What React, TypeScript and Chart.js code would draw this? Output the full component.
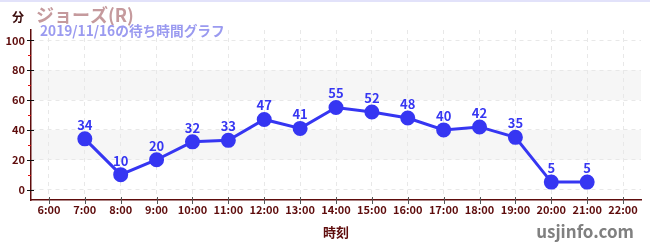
import React, { useEffect, useRef } from "react";
import { Chart, registerables } from "chart.js";

Chart.register(...registerables);

const hours = ["6:00", "7:00", "8:00", "9:00", "10:00", "11:00", "12:00", "13:00", "14:00", "15:00", "16:00", "17:00", "18:00", "19:00", "20:00", "21:00", "22:00"];
const waitMinutes: (number | null)[] = [null, 34, 10, 20, 32, 33, 47, 41, 55, 52, 48, 40, 42, 35, 5, 5, null];
const yTicks = [0, 20, 40, 60, 80, 100];
const yMinorTicks = [10, 30, 50, 70, 90];
const bands: [number, number][] = [[20, 40], [60, 80]];

const titleText = "ジョーズ(R)";
const subtitleText = "2019/11/16の待ち時間グラフ";
const unitText = "分";
const xTitle = "時刻";
const siteText = "usjinfo.com";

const FONT = "'Noto Sans CJK JP', 'Noto Sans', sans-serif";
const DARK = "#5e0c0c";
const BLUE = "#3636f2";

const decorPlugin = {
  id: "decor",
  beforeDraw(chart: any) {
    const { ctx, chartArea, scales } = chart;
    const y = scales.y;
    ctx.save();
    ctx.fillStyle = "#ffffff";
    ctx.fillRect(0, 0, chart.width, chart.height);
    ctx.fillStyle = "#f6f6f6";
    for (const [a, b] of bands) {
      const top = y.getPixelForValue(b);
      const bot = y.getPixelForValue(a);
      ctx.fillRect(chartArea.left, top, chartArea.right - chartArea.left, bot - top);
    }
    ctx.fillStyle = "#e2e2fa";
    ctx.fillRect(0, 0, chart.width, 2);
    ctx.restore();
  },
  afterDraw(chart: any) {
    const { ctx, chartArea, scales } = chart;
    const x = scales.x;
    const y = scales.y;
    ctx.save();
    ctx.strokeStyle = "#111";
    ctx.lineWidth = 1;
    for (const v of yTicks) {
      const py = Math.round(y.getPixelForValue(v)) + 0.5;
      ctx.beginPath();
      ctx.moveTo(chartArea.left - 4, py);
      ctx.lineTo(chartArea.left + 3, py);
      ctx.stroke();
    }
    ctx.strokeStyle = "#e01010";
    for (const v of yMinorTicks) {
      const py = Math.round(y.getPixelForValue(v)) + 0.5;
      ctx.beginPath();
      ctx.moveTo(chartArea.left - 3, py);
      ctx.lineTo(chartArea.left, py);
      ctx.stroke();
    }
    ctx.strokeStyle = "#555";
    for (let i = 0; i < hours.length; i++) {
      const px = Math.round(x.getPixelForValue(i)) + 0.5;
      ctx.beginPath();
      ctx.moveTo(px, chartArea.bottom - 3);
      ctx.lineTo(px, chartArea.bottom + 4);
      ctx.stroke();
    }
    ctx.fillStyle = BLUE;
    ctx.font = `bold 13px ${FONT}`;
    ctx.textAlign = "center";
    ctx.textBaseline = "middle";
    const meta = chart.getDatasetMeta(0);
    meta.data.forEach((pt: any, i: number) => {
      const v = waitMinutes[i];
      if (v == null) return;
      ctx.fillText(String(v), pt.x, pt.y - 14);
    });
    ctx.textBaseline = "middle";
    ctx.textAlign = "left";
    ctx.fillStyle = "#3a0a0a";
    ctx.font = `bold 12px ${FONT}`;
    ctx.fillText(unitText, 12, 17);
    ctx.fillStyle = "#c59a9d";
    ctx.font = `bold 18px ${FONT}`;
    ctx.fillText(titleText, 36, 15);
    ctx.fillStyle = "#9a9af0";
    ctx.font = `bold 13.7px ${FONT}`;
    ctx.fillText(subtitleText, 40, 31);
    ctx.textAlign = "center";
    ctx.fillStyle = DARK;
    ctx.font = `bold 13px ${FONT}`;
    ctx.fillText(xTitle, (chartArea.left + chartArea.right) / 2, 232);
    ctx.textAlign = "right";
    ctx.fillStyle = "#808080";
    ctx.font = `bold 17px ${FONT}`;
    ctx.fillText(siteText, 634, 232);
    ctx.restore();
  },
};

export default function App() {
  const ref = useRef<HTMLCanvasElement>(null);
  useEffect(() => {
    document.body.style.margin = "0";
    const chart = new Chart(ref.current!, {
      type: "line",
      data: {
        labels: hours,
        datasets: [
          {
            data: waitMinutes,
            borderColor: BLUE,
            backgroundColor: BLUE,
            borderWidth: 3,
            pointRadius: 6,
            pointHoverRadius: 6,
            tension: 0,
            spanGaps: false,
          },
        ],
      },
      options: {
        responsive: false,
        animation: false,
        layout: { padding: { top: 30, right: 9, left: 0, bottom: 0 } },
        plugins: { legend: { display: false }, tooltip: { enabled: false } },
        scales: {
          x: {
            type: "category",
            offset: true,
            afterFit: (s: any) => { s.height = 50; },
            grid: { offset: false, color: "#e8e8e8", drawTicks: false, tickLength: 0 },
            border: { color: DARK, width: 1.5, dash: [4, 4] },
            ticks: { color: DARK, font: { family: FONT, size: 11, weight: "bold" }, padding: 3, maxRotation: 0, autoSkip: false },
          },
          y: {
            min: -7,
            max: 107,
            afterFit: (s: any) => { s.width = 31; },
            afterBuildTicks: (s: any) => { s.ticks = yTicks.map((v) => ({ value: v })); },
            grid: { color: "#e8e8e8", drawTicks: false, tickLength: 0 },
            border: { color: DARK, width: 1.5, dash: [4, 4] },
            ticks: { color: DARK, font: { family: FONT, size: 11, weight: "bold" }, padding: 6 },
          },
        },
      } as any,
      plugins: [decorPlugin],
    });
    return () => chart.destroy();
  }, []);
  return <canvas ref={ref} width={650} height={250} style={{ display: "block" }} />;
}
